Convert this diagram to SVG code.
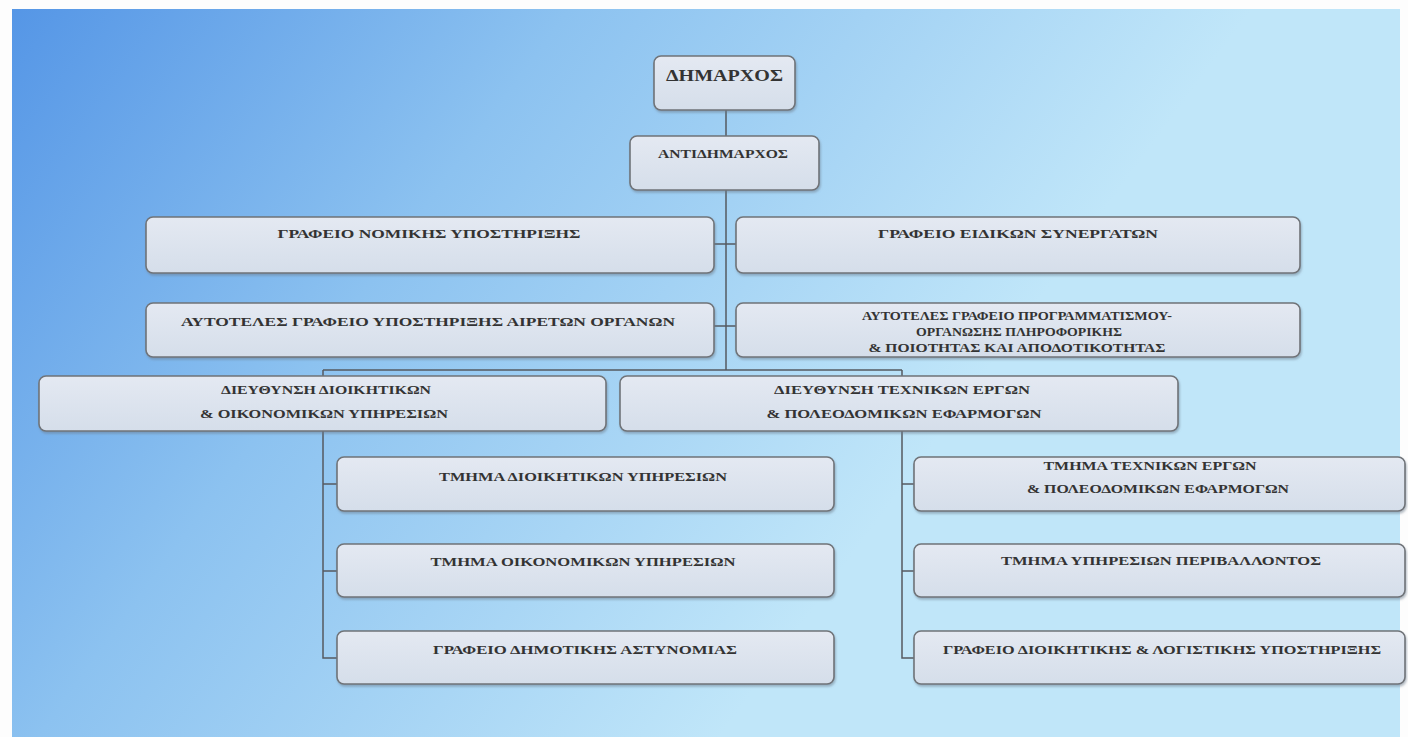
<svg xmlns="http://www.w3.org/2000/svg" width="1408" height="737" viewBox="0 0 1408 737">
  <defs>
    <linearGradient id="bg" gradientUnits="userSpaceOnUse" x1="12" y1="9" x2="820" y2="600">
      <stop offset="0" stop-color="#5596e6"/>
      <stop offset="0.45" stop-color="#8cc2f0"/>
      <stop offset="1" stop-color="#c0e6f9"/>
    </linearGradient>
    <linearGradient id="boxfill" x1="0" y1="0" x2="0" y2="1">
      <stop offset="0" stop-color="#e4e9f2"/>
      <stop offset="1" stop-color="#d5deea"/>
    </linearGradient>
    <filter id="sh" x="-5%" y="-20%" width="110%" height="150%">
      <feDropShadow dx="1" dy="2" stdDeviation="1" flood-color="#6a7a8a" flood-opacity="0.5"/>
    </filter>
  </defs>
  <style>
    .box { fill: url(#boxfill); stroke: #6f7378; stroke-width: 1.6; filter: url(#sh); }
    .t { font-family: "Liberation Serif", "DejaVu Serif", serif; font-weight: bold; font-size: 13.5px; fill: #333333; text-anchor: middle; }
    .big { font-size: 17px; }
    .conn { stroke: #555a60; stroke-width: 1.5; fill: none; }
  </style>

  <rect x="0" y="0" width="1408" height="737" fill="#fdfdfd"/>
  <rect x="12" y="9" width="1388" height="728" fill="url(#bg)"/>

  <g id="connectors">
    <path class="conn" d="M726 110 V370"/>
    <path class="conn" d="M714 244 H736"/>
    <path class="conn" d="M714 326 H736"/>
    <path class="conn" d="M323 370 H902"/>
    <path class="conn" d="M323 370 V376 M902 370 V376"/>
    <path class="conn" d="M323 431 V658 H337 M323 484 H337 M323 571 H337"/>
    <path class="conn" d="M902 431 V658 H914 M902 484 H914 M902 571 H914"/>
  </g>

  <g id="dimarxos">
    <rect class="box" x="654" y="56" width="141" height="54" rx="7"/>
    <text class="t big" x="724.5" y="81" textLength="117" lengthAdjust="spacingAndGlyphs">ΔΗΜΑΡΧΟΣ</text>
  </g>
  <g id="antidimarxos">
    <rect class="box" x="630" y="136" width="189" height="54" rx="7"/>
    <text class="t" x="723" y="158" textLength="130" lengthAdjust="spacingAndGlyphs">ΑΝΤΙΔΗΜΑΡΧΟΣ</text>
  </g>
  <g id="nomikis">
    <rect class="box" x="146" y="217" width="568" height="56" rx="7"/>
    <text class="t" x="429" y="238" textLength="303" lengthAdjust="spacingAndGlyphs">ΓΡΑΦΕΙΟ ΝΟΜΙΚΗΣ ΥΠΟΣΤΗΡΙΞΗΣ</text>
  </g>
  <g id="eidikon">
    <rect class="box" x="736" y="217" width="564" height="56" rx="7"/>
    <text class="t" x="1018" y="238" textLength="280" lengthAdjust="spacingAndGlyphs">ΓΡΑΦΕΙΟ ΕΙΔΙΚΩΝ ΣΥΝΕΡΓΑΤΩΝ</text>
  </g>
  <g id="airetwn">
    <rect class="box" x="146" y="303" width="568" height="54" rx="7"/>
    <text class="t" x="428" y="326" textLength="494" lengthAdjust="spacingAndGlyphs">ΑΥΤΟΤΕΛΕΣ ΓΡΑΦΕΙΟ ΥΠΟΣΤΗΡΙΞΗΣ ΑΙΡΕΤΩΝ ΟΡΓΑΝΩΝ</text>
  </g>
  <g id="programmatismou">
    <rect class="box" x="736" y="303" width="564" height="54" rx="7"/>
    <text class="t" x="1017" y="320" font-size="11.5" textLength="310" lengthAdjust="spacingAndGlyphs">ΑΥΤΟΤΕΛΕΣ ΓΡΑΦΕΙΟ ΠΡΟΓΡΑΜΜΑΤΙΣΜΟΥ-</text>
    <text class="t" x="1019" y="336" font-size="11.5" textLength="206" lengthAdjust="spacingAndGlyphs">ΟΡΓΑΝΩΣΗΣ ΠΛΗΡΟΦΟΡΙΚΗΣ</text>
    <text class="t" x="1017" y="352" font-size="11.5" textLength="297" lengthAdjust="spacingAndGlyphs">&amp; ΠΟΙΟΤΗΤΑΣ ΚΑΙ ΑΠΟΔΟΤΙΚΟΤΗΤΑΣ</text>
  </g>
  <g id="dieuthynsi-dioikitikwn">
    <rect class="box" x="39" y="376" width="567" height="55" rx="7"/>
    <text class="t" x="326" y="394" textLength="210" lengthAdjust="spacingAndGlyphs">ΔΙΕΥΘΥΝΣΗ ΔΙΟΙΚΗΤΙΚΩΝ</text>
    <text class="t" x="324" y="418" textLength="248" lengthAdjust="spacingAndGlyphs">&amp; ΟΙΚΟΝΟΜΙΚΩΝ ΥΠΗΡΕΣΙΩΝ</text>
  </g>
  <g id="dieuthynsi-texnikwn">
    <rect class="box" x="620" y="376" width="558" height="55" rx="7"/>
    <text class="t" x="902" y="394" textLength="256" lengthAdjust="spacingAndGlyphs">ΔΙΕΥΘΥΝΣΗ ΤΕΧΝΙΚΩΝ ΕΡΓΩΝ</text>
    <text class="t" x="904" y="418" textLength="275" lengthAdjust="spacingAndGlyphs">&amp; ΠΟΛΕΟΔΟΜΙΚΩΝ ΕΦΑΡΜΟΓΩΝ</text>
  </g>
  <g id="tmima-dioikitikwn">
    <rect class="box" x="337" y="457" width="497" height="54" rx="7"/>
    <text class="t" x="583" y="481" textLength="288" lengthAdjust="spacingAndGlyphs">ΤΜΗΜΑ ΔΙΟΙΚΗΤΙΚΩΝ ΥΠΗΡΕΣΙΩΝ</text>
  </g>
  <g id="tmima-oikonomikwn">
    <rect class="box" x="337" y="544" width="497" height="53" rx="7"/>
    <text class="t" x="583" y="566" textLength="305" lengthAdjust="spacingAndGlyphs">ΤΜΗΜΑ ΟΙΚΟΝΟΜΙΚΩΝ ΥΠΗΡΕΣΙΩΝ</text>
  </g>
  <g id="dimotikis-astynomias">
    <rect class="box" x="337" y="631" width="497" height="53" rx="7"/>
    <text class="t" x="585" y="654" textLength="304" lengthAdjust="spacingAndGlyphs">ΓΡΑΦΕΙΟ ΔΗΜΟΤΙΚΗΣ ΑΣΤΥΝΟΜΙΑΣ</text>
  </g>
  <g id="tmima-texnikwn">
    <rect class="box" x="914" y="457" width="491" height="54" rx="7"/>
    <text class="t" x="1150" y="470" textLength="213" lengthAdjust="spacingAndGlyphs">ΤΜΗΜΑ ΤΕΧΝΙΚΩΝ ΕΡΓΩΝ</text>
    <text class="t" x="1158" y="493" textLength="262" lengthAdjust="spacingAndGlyphs">&amp; ΠΟΛΕΟΔΟΜΙΚΩΝ ΕΦΑΡΜΟΓΩΝ</text>
  </g>
  <g id="perivallontos">
    <rect class="box" x="914" y="544" width="491" height="53" rx="7"/>
    <text class="t" x="1161" y="565" textLength="320" lengthAdjust="spacingAndGlyphs">ΤΜΗΜΑ ΥΠΗΡΕΣΙΩΝ ΠΕΡΙΒΑΛΛΟΝΤΟΣ</text>
  </g>
  <g id="logistikis">
    <rect class="box" x="914" y="631" width="491" height="53" rx="7"/>
    <text class="t" x="1162" y="654" textLength="438" lengthAdjust="spacingAndGlyphs">ΓΡΑΦΕΙΟ ΔΙΟΙΚΗΤΙΚΗΣ &amp; ΛΟΓΙΣΤΙΚΗΣ ΥΠΟΣΤΗΡΙΞΗΣ</text>
  </g>
</svg>
